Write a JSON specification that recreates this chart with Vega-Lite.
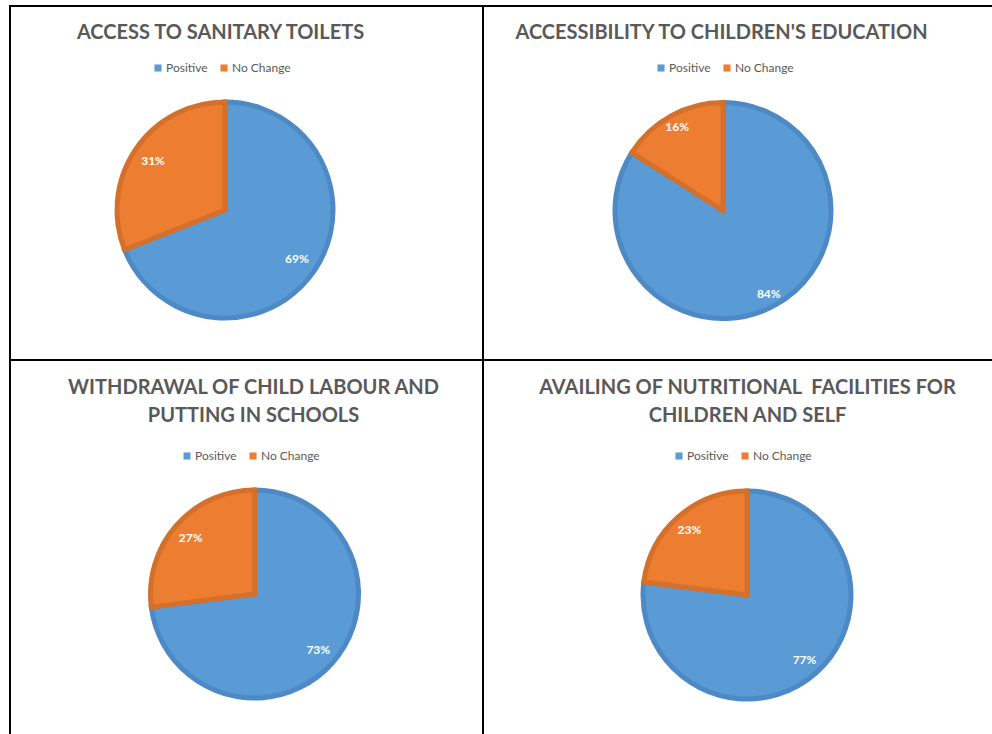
{
  "$schema": "https://vega.github.io/schema/vega-lite/v6.json",
  "padding": {"left": 9, "top": 5, "right": -22, "bottom": -27},
  "background": "white",
  "datasets": {
    "pies": [
      {"panel": "A", "category": "Positive", "value": 69, "order": 1, "label": "69%"},
      {"panel": "A", "category": "No Change", "value": 31, "order": 2, "label": "31%"},
      {"panel": "B", "category": "Positive", "value": 84, "order": 1, "label": "84%"},
      {"panel": "B", "category": "No Change", "value": 16, "order": 2, "label": "16%"},
      {"panel": "C", "category": "Positive", "value": 73, "order": 1, "label": "73%"},
      {"panel": "C", "category": "No Change", "value": 27, "order": 2, "label": "27%"},
      {"panel": "D", "category": "Positive", "value": 77, "order": 1, "label": "77%"},
      {"panel": "D", "category": "No Change", "value": 23, "order": 2, "label": "23%"}
    ]
  },
  "columns": 2,
  "spacing": 0,
  "bounds": "flush",
  "align": "each",
  "resolve": {"scale": {"fill": "independent", "stroke": "independent"}, "legend": {"fill": "independent"}},
  "concat": [
    {
      "width": 473, "height": 354,
      "view": {"stroke": "black", "strokeWidth": 2},
      "title": {"text": "ACCESS TO SANITARY TOILETS", "offset": -36.5, "dx": -26},
      "data": {"name": "pies"},
      "transform": [{"filter": "datum.panel === 'A'"}],
      "encoding": {
        "theta": {"field": "value", "type": "quantitative", "stack": true},
        "order": {"field": "order", "type": "ordinal"}
      },
      "layer": [
        {
          "mark": {"type": "arc", "radius": 108, "strokeWidth": 5, "xOffset": -21.5, "yOffset": 27},
          "encoding": {
            "fill": {"field": "category", "type": "nominal", "scale": {"domain": ["Positive", "No Change"], "range": ["#5B9BD5", "#ED7D31"]}, "legend": {"title": null, "legendX": 142, "legendY": 56}},
            "stroke": {"field": "category", "type": "nominal", "scale": {"domain": ["Positive", "No Change"], "range": ["#4D89C5", "#D5702B"]}, "legend": null}
          }
        },
        {
          "mark": {"type": "text", "radius": 87, "dx": -21.5, "dy": 27},
          "encoding": {"text": {"field": "label", "type": "nominal"}}
        }
      ]
    },
    {
      "width": 530, "height": 354,
      "view": {"stroke": "black", "strokeWidth": 2},
      "title": {"text": "ACCESSIBILITY TO CHILDREN'S EDUCATION", "offset": -36.5, "dx": -26.5},
      "data": {"name": "pies"},
      "transform": [{"filter": "datum.panel === 'B'"}],
      "encoding": {
        "theta": {"field": "value", "type": "quantitative", "stack": true},
        "order": {"field": "order", "type": "ordinal"}
      },
      "layer": [
        {
          "mark": {"type": "arc", "radius": 108, "strokeWidth": 5, "xOffset": -25, "yOffset": 27.5},
          "encoding": {
            "fill": {"field": "category", "type": "nominal", "scale": {"domain": ["Positive", "No Change"], "range": ["#5B9BD5", "#ED7D31"]}, "legend": {"title": null, "legendX": 172, "legendY": 56}},
            "stroke": {"field": "category", "type": "nominal", "scale": {"domain": ["Positive", "No Change"], "range": ["#4D89C5", "#D5702B"]}, "legend": null}
          }
        },
        {
          "mark": {"type": "text", "radius": 95, "dx": -25, "dy": 27.5},
          "encoding": {"text": {"field": "label", "type": "nominal"}}
        }
      ]
    },
    {
      "width": 473, "height": 400,
      "view": {"stroke": "black", "strokeWidth": 2},
      "title": {"text": ["WITHDRAWAL OF CHILD LABOUR AND", "PUTTING IN SCHOOLS"], "offset": -66, "dx": 7},
      "data": {"name": "pies"},
      "transform": [{"filter": "datum.panel === 'C'"}],
      "encoding": {
        "theta": {"field": "value", "type": "quantitative", "stack": true},
        "order": {"field": "order", "type": "ordinal"}
      },
      "layer": [
        {
          "mark": {"type": "arc", "radius": 104, "strokeWidth": 5, "xOffset": 8, "yOffset": 34},
          "encoding": {
            "fill": {"field": "category", "type": "nominal", "scale": {"domain": ["Positive", "No Change"], "range": ["#5B9BD5", "#ED7D31"]}, "legend": {"title": null, "legendX": 171, "legendY": 90}},
            "stroke": {"field": "category", "type": "nominal", "scale": {"domain": ["Positive", "No Change"], "range": ["#4D89C5", "#D5702B"]}, "legend": null}
          }
        },
        {
          "mark": {"type": "text", "radius": 85, "dx": 8, "dy": 34},
          "encoding": {"text": {"field": "label", "type": "nominal"}}
        }
      ]
    },
    {
      "width": 530, "height": 400,
      "view": {"stroke": "black", "strokeWidth": 2},
      "title": {"text": ["AVAILING OF NUTRITIONAL\u00a0 FACILITIES FOR", "CHILDREN AND SELF"], "offset": -66, "dx": -0.5},
      "data": {"name": "pies"},
      "transform": [{"filter": "datum.panel === 'D'"}],
      "encoding": {
        "theta": {"field": "value", "type": "quantitative", "stack": true},
        "order": {"field": "order", "type": "ordinal"}
      },
      "layer": [
        {
          "mark": {"type": "arc", "radius": 104, "strokeWidth": 5, "xOffset": -1, "yOffset": 35},
          "encoding": {
            "fill": {"field": "category", "type": "nominal", "scale": {"domain": ["Positive", "No Change"], "range": ["#5B9BD5", "#ED7D31"]}, "legend": {"title": null, "legendX": 190, "legendY": 90}},
            "stroke": {"field": "category", "type": "nominal", "scale": {"domain": ["Positive", "No Change"], "range": ["#4D89C5", "#D5702B"]}, "legend": null}
          }
        },
        {
          "mark": {"type": "text", "radius": 87, "dx": -1, "dy": 35},
          "encoding": {"text": {"field": "label", "type": "nominal"}}
        }
      ]
    }
  ],
  "config": {
    "view": {"stroke": "black", "strokeWidth": 2},
    "font": "Lato",
    "title": {"font": "Lato", "fontSize": 20, "fontWeight": "bold", "color": "#595959", "anchor": "middle", "baseline": "top", "lineHeight": 28, "frame": "group"},
    "legend": {"orient": "none", "direction": "horizontal", "symbolType": "square", "symbolSize": 50, "symbolStrokeWidth": 0, "labelFont": "Lato", "labelFontSize": 12, "labelColor": "#595959", "columnPadding": 10, "labelOffset": 2, "padding": 0},
    "text": {"color": "white", "font": "Lato", "fontSize": 12, "fontWeight": "bold"}
  }
}
